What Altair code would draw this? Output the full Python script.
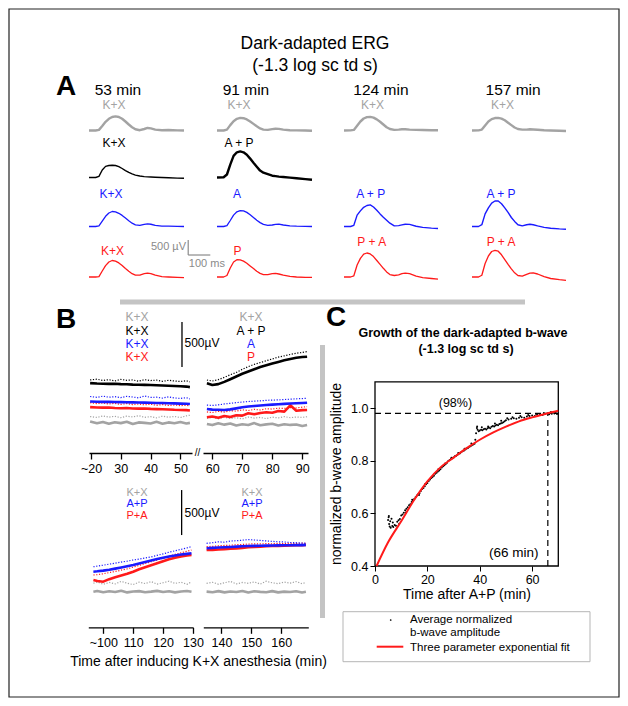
import altair as alt
import pandas as pd

FONT = "Liberation Sans"
W, H = 612, 690
GRAY, BLACK, BLUE, RED = "#a3a3a3", "#000000", "#1a1aff", "#ff1a1a"

# ================= DATA =================
# ---- Panel A: ERG traces, amplitude (µV) vs time after flash (ms)
A_T = [0, 30, 45, 60, 75, 90, 105, 120, 135, 150, 165, 180, 195, 210, 230, 250, 265, 280, 300, 330, 360, 400, 430]
A_HEADERS = ["53 min", "91 min", "124 min", "157 min"]

gray_53 = [0, 0, 20, 150, 290, 390, 450, 470, 450, 390, 300, 200, 110, 40, 10, 50, 85, 70, 30, 10, 15, 5, 0]
gray_91 = [0, 0, 30, 180, 310, 390, 420, 410, 370, 300, 220, 140, 70, 30, 20, 45, 60, 55, 30, 10, 5, 0, -10]
gray_124 = [0, 5, 20, 160, 300, 400, 445, 455, 430, 370, 290, 200, 110, 50, 20, 30, 40, 40, 30, 20, 15, 10, 10]
gray_157 = [0, 5, 30, 170, 300, 380, 415, 420, 395, 340, 260, 180, 100, 50, 30, 30, 40, 35, 25, 10, 0, -10, -15]
black_53 = [0, 0, 40, 250, 370, 400, 410, 400, 360, 300, 230, 170, 120, 80, 50, 30, 20, 15, 10, 0, -10, -20, -25]
black_91 = [0, 10, 100, 430, 720, 840, 870, 840, 760, 630, 490, 360, 230, 160, 110, 60, 45, 30, 15, -5, -25, -55, -75]
blue_53 = [0, 0, 20, 180, 340, 450, 500, 490, 440, 370, 280, 190, 110, 55, 40, 70, 90, 75, 35, 10, 10, 5, 0]
blue_91 = [0, 0, 30, 200, 380, 490, 530, 520, 470, 390, 300, 210, 130, 70, 40, 50, 70, 80, 50, 20, 10, 5, 0]
blue_124 = [0, 0, 40, 380, 520, 640, 700, 720, 650, 540, 420, 310, 210, 110, 20, 30, 55, 75, 70, 10, -30, -55, -65]
blue_157 = [0, 0, 60, 420, 620, 780, 850, 850, 760, 620, 470, 300, 170, 60, 20, 60, 75, 60, 20, -30, -60, -80, -90]
red_53 = [0, 0, 15, 200, 380, 500, 550, 530, 470, 380, 280, 190, 110, 60, 60, 110, 130, 115, 60, 10, 0, -10, -20]
red_91 = [0, 0, 50, 300, 500, 575, 570, 530, 460, 370, 280, 190, 120, 80, 80, 110, 120, 100, 60, 20, 0, -10, -15]
red_124 = [0, 0, 40, 400, 620, 760, 800, 770, 680, 550, 420, 290, 170, 80, 50, 70, 110, 130, 110, 30, -20, -50, -70]
red_157 = [0, 0, 60, 450, 700, 850, 890, 860, 740, 580, 420, 270, 140, 50, 30, 90, 130, 140, 100, 10, -50, -90, -110]

A_LABELS_GRAY = ["K+X", "K+X", "K+X", "K+X"]
A_LABELS_BLACK = ["K+X", "A + P"]
A_LABELS_BLUE = ["K+X", "A", "A + P", "A + P"]
A_LABELS_RED = ["K+X", "P", "P + A", "P + A"]
A_BAR_UV = 500
A_BAR_MS = 100

# ---- Panel B: b-wave amplitude (µV) vs time after K+X (min)
TL_T = [19.7, 22, 24, 26, 28, 30, 32, 34, 36, 38, 40, 42, 44, 46, 48, 50, 52, 53.2]
TL_black_dot = [812, 820, 806, 815, 800, 818, 808, 812, 798, 815, 805, 810, 796, 808, 800, 795, 802, 790]
TL_black = [776, 772, 770, 768, 770, 765, 764, 760, 758, 757, 755, 752, 750, 748, 745, 742, 738, 732]
TL_blue_dot = [628, 618, 632, 620, 626, 615, 630, 622, 612, 634, 618, 620, 610, 624, 612, 606, 615, 600]
TL_blue = [572, 570, 568, 569, 566, 565, 564, 563, 561, 560, 558, 556, 555, 553, 551, 549, 547, 544]
TL_red_dot = [560, 548, 556, 545, 552, 540, 550, 538, 545, 535, 542, 530, 538, 528, 534, 526, 530, 522]
TL_red = [510, 506, 504, 505, 500, 498, 500, 495, 493, 494, 490, 488, 486, 484, 480, 478, 476, 472]
TL_gray_dot = [405, 395, 412, 398, 408, 392, 410, 400, 415, 396, 404, 390, 410, 398, 406, 394, 412, 420]
TL_gray = [350, 330, 345, 325, 342, 332, 348, 322, 340, 335, 328, 346, 326, 340, 330, 344, 328, 335]

TR_T = [58.2, 60, 62, 64, 66, 68, 70, 72, 74, 76, 78, 80, 82, 84, 86, 88, 90, 91.6]
TR_black = [774, 756, 765, 790, 820, 850, 880, 905, 930, 955, 975, 995, 1012, 1030, 1045, 1058, 1066, 1070]
TR_black_dot = [811, 800, 815, 840, 870, 895, 930, 960, 985, 1005, 1025, 1045, 1065, 1080, 1095, 1108, 1118, 1126]
TR_blue_dot = [533, 528, 535, 545, 552, 560, 566, 572, 576, 580, 585, 588, 590, 594, 598, 602, 605, 608]
TR_blue = [489, 482, 480, 478, 485, 496, 508, 516, 522, 528, 533, 537, 541, 546, 550, 553, 556, 559]
TR_red = [397, 405, 392, 411, 400, 420, 415, 441, 430, 445, 452, 448, 467, 460, 530, 470, 476, 478]
TR_red_dot = [456, 450, 462, 455, 470, 465, 480, 472, 485, 478, 492, 488, 498, 495, 505, 500, 510, 514]
TR_gray_dot = [386, 395, 380, 398, 384, 392, 378, 400, 388, 395, 382, 398, 390, 404, 392, 400, 396, 403]
TR_gray = [322, 310, 330, 315, 328, 305, 320, 312, 332, 308, 318, 325, 306, 320, 312, 316, 300, 311]

BL_T = [96.7, 98, 100, 102, 104, 106, 108, 110, 112, 114, 116, 118, 120, 122, 124, 126, 128, 129.5]
BL_blue_dot = [673, 680, 690, 702, 712, 725, 735, 748, 758, 770, 782, 800, 815, 835, 850, 866, 882, 896]
BL_blue = [618, 622, 630, 640, 652, 665, 678, 692, 708, 725, 742, 758, 772, 786, 798, 808, 816, 822]
BL_red_dot = [581, 585, 595, 608, 620, 635, 650, 668, 688, 708, 728, 748, 768, 790, 810, 828, 845, 859]
BL_red = [526, 515, 507, 535, 556, 575, 595, 618, 645, 668, 690, 712, 735, 757, 774, 788, 798, 803]
BL_gray_dot = [489, 505, 478, 498, 482, 510, 490, 475, 502, 486, 508, 480, 495, 512, 488, 500, 478, 505]
BL_gray = [396, 404, 390, 400, 392, 406, 388, 398, 402, 390, 396, 405, 392, 400, 388, 398, 404, 395]

BR_T = [135, 137, 139, 141, 143, 145, 147, 149, 151, 153, 155, 157, 159, 161, 163, 165, 167, 168.3]
BR_blue_dot = [933, 940, 950, 945, 958, 962, 968, 975, 970, 965, 960, 955, 950, 948, 942, 940, 936, 933]
BR_blue = [878, 882, 886, 890, 893, 896, 900, 903, 905, 906, 908, 909, 910, 911, 912, 913, 913, 914]
BR_red_dot = [896, 900, 905, 910, 912, 918, 920, 925, 928, 926, 930, 928, 932, 930, 934, 932, 935, 933]
BR_red = [859, 860, 864, 868, 872, 876, 882, 889, 893, 896, 900, 903, 905, 907, 909, 911, 912, 914]
BR_gray_dot = [489, 500, 478, 495, 510, 482, 498, 488, 505, 480, 512, 494, 485, 502, 490, 508, 485, 498]
BR_gray = [396, 390, 402, 388, 398, 392, 404, 386, 400, 394, 390, 402, 388, 396, 392, 400, 386, 394]

B_TOP_TICKS_L = [20, 30, 40, 50]
B_TOP_TICKS_R = [60, 70, 80, 90]
B_BOT_TICKS_L = [100, 110, 120, 130]
B_BOT_TICKS_R = [140, 150, 160]
B_TOP_LABELS_L = ["K+X", "K+X", "K+X", "K+X"]
B_TOP_LABELS_R = ["K+X", "A + P", "A", "P"]
B_BOT_LABELS_L = ["K+X", "A+P", "P+A"]
B_BOT_LABELS_R = ["K+X", "A+P", "P+A"]
B_BAR_UV = 500

# ---- Panel C: normalized b-wave amplitude vs time after A+P (min)
C_T = [5.0, 5.2, 5.4, 5.6, 5.8, 6.0, 6.3, 6.6, 7.0, 7.5, 8.0, 8.5, 9.0, 9.5, 10.0, 10.5, 11.0, 11.5,
       12.0, 12.5, 13.0, 13.5, 14.0, 14.5, 15.0, 15.5, 16.0, 16.5, 17.0, 17.5, 18.0, 18.5, 19.0, 19.5,
       20.0, 20.5, 21.0, 21.5, 22.0, 22.5, 23.0, 23.5, 24.0, 24.5, 25.0, 25.5, 26.0, 26.5, 27.0, 27.5,
       28.0, 28.5, 29.0, 29.5, 30.0, 30.5, 31.0, 31.5, 32.0, 32.5, 33.0, 33.5, 34.0, 34.5, 35.0, 35.5,
       36.0, 36.5, 37.0, 37.5, 38.0, 38.3, 38.6, 38.9, 39.2, 39.6, 40.0, 40.5, 41.0, 41.5, 42.0, 42.5,
       43.0, 43.5, 44.0, 44.5, 45.0, 45.5, 46.0, 46.5, 47.0, 47.5, 48.0, 48.5, 49.0, 49.5, 50.0, 51.0,
       52.0, 53.0, 54.0, 55.0, 56.0, 57.0, 58.0, 59.0, 60.0, 61.0, 62.0, 63.0, 64.0, 65.0, 66.0, 66.5,
       67.0, 67.5, 68.0, 68.5, 69.0, 69.5]
C_V = [0.575, 0.585, 0.56, 0.55, 0.57, 0.545, 0.58, 0.552, 0.548, 0.556, 0.553, 0.568, 0.574, 0.579,
       0.592, 0.596, 0.602, 0.612, 0.618, 0.623, 0.631, 0.635, 0.643, 0.649, 0.655, 0.661, 0.668, 0.673,
       0.677, 0.685, 0.693, 0.697, 0.703, 0.711, 0.716, 0.723, 0.729, 0.735, 0.739, 0.743, 0.751, 0.755,
       0.759, 0.763, 0.768, 0.775, 0.779, 0.783, 0.788, 0.793, 0.799, 0.803, 0.807, 0.81, 0.813, 0.817,
       0.819, 0.823, 0.827, 0.829, 0.833, 0.837, 0.839, 0.843, 0.847, 0.849, 0.853, 0.855, 0.859, 0.862,
       0.865, 0.88, 0.905, 0.925, 0.918, 0.912, 0.915, 0.918, 0.916, 0.92, 0.922, 0.919, 0.924, 0.927,
       0.924, 0.929, 0.932, 0.93, 0.934, 0.937, 0.935, 0.94, 0.942, 0.944, 0.947, 0.95, 0.954, 0.957,
       0.96, 0.962, 0.96, 0.964, 0.966, 0.964, 0.968, 0.97, 0.972, 0.97, 0.974, 0.976, 0.974, 0.978,
       0.98, 0.977, 0.982, 0.979, 0.984, 0.98, 0.982, 0.978]
# extra scattered samples around the band
C_T2 = [5.3, 6.8, 9.2, 11.8, 14.2, 16.8, 19.2, 21.8, 24.2, 26.8, 29.2, 31.8, 34.2, 36.8, 39.0, 40.8,
        43.2, 45.8, 48.2, 50.5, 52.5, 55.5, 58.5, 61.5, 64.5, 67.2, 68.8]
C_V2 = [0.59, 0.565, 0.56, 0.603, 0.652, 0.67, 0.712, 0.738, 0.768, 0.79, 0.812, 0.83, 0.846, 0.866,
        0.93, 0.928, 0.93, 0.942, 0.952, 0.962, 0.966, 0.97, 0.974, 0.978, 0.982, 0.986, 0.984]
FIT_T = [0.6, 5, 10, 15, 20, 25, 30, 35, 40, 45, 50, 55, 60, 65, 70]
FIT_V = [0.4, 0.49, 0.57, 0.652, 0.722, 0.775, 0.812, 0.848, 0.88, 0.907, 0.93, 0.95, 0.965, 0.978, 0.99]
C_LEVEL = 0.98
C_T98 = 66
C_X_TICKS = [0, 20, 40, 60]
C_Y_TICKS = [0.4, 0.6, 0.8, 1.0]

# ================= LAYOUT HELPERS =================
ONE = alt.Data(values=[{"k": 1}])


def P(v):
    """page pixel -> chart pixel"""
    return v - 8


def lin(lo, hi, r0, r1):
    return alt.Scale(domain=[lo, hi], range=[r0, r1], nice=False, zero=False)


def vtext(s, x, y, size=12, color=BLACK, weight="normal", align="center", baseline="middle", angle=None):
    kw = dict(text=s, fontSize=size, color=color, fontWeight=weight, align=align,
              baseline=baseline, font=FONT)
    if angle is not None:
        kw["angle"] = angle
    return alt.Chart(ONE).mark_text(**kw).encode(x=alt.value(P(x)), y=alt.value(P(y)))


def vrule(x1, y1, x2, y2, color=BLACK, width=1, dash=None):
    kw = dict(color=color, strokeWidth=width)
    if dash:
        kw["strokeDash"] = dash
    return alt.Chart(ONE).mark_rule(**kw).encode(
        x=alt.value(P(x1)), x2=alt.value(P(x2)), y=alt.value(P(y1)), y2=alt.value(P(y2)))


layers = []

# border
layers.append(alt.Chart(ONE).mark_rect(fillOpacity=0, stroke="#222", strokeWidth=1.2).encode(
    x=alt.value(1), x2=alt.value(W - 1), y=alt.value(1), y2=alt.value(H - 1)))

# ================= PANEL A =================
A_COL_PX = [(89, 184), (217, 312), (344, 438), (472, 566)]
A_BASE = {"gray": 130.5, "black": 177.5, "blue": 226.5, "red": 277.0}
A_PXUV = 0.03


def a_scales(ci, row):
    x0, x1 = A_COL_PX[ci]
    b = P(A_BASE[row])
    return lin(0, 430, P(x0), P(x1)), lin(0, 1000, b, b - 1000 * A_PXUV)


def a_trace(ci, row, vals, color, sw):
    xs, ys = a_scales(ci, row)
    df = pd.DataFrame({"t": A_T, "v": vals})
    return alt.Chart(df).mark_line(color=color, strokeWidth=sw, strokeJoin="round").encode(
        x=alt.X("t:Q", scale=xs, axis=None), y=alt.Y("v:Q", scale=ys, axis=None))


def a_text(ci, row, t, v, s, color, size, align="center", weight="normal"):
    xs, ys = a_scales(ci, row)
    df = pd.DataFrame({"t": [t], "v": [v], "s": [s]})
    return alt.Chart(df).mark_text(color=color, fontSize=size, font=FONT, align=align,
                                   baseline="middle", fontWeight=weight).encode(
        x=alt.X("t:Q", scale=xs, axis=None), y=alt.Y("v:Q", scale=ys, axis=None), text="s:N")


A_TRACES = {
    "gray": ([gray_53, gray_91, gray_124, gray_157], GRAY, [2.4, 2.4, 2.4, 2.4]),
    "black": ([black_53, black_91], BLACK, [1.4, 2.4]),
    "blue": ([blue_53, blue_91, blue_124, blue_157], BLUE, [1.3, 1.3, 1.4, 1.4]),
    "red": ([red_53, red_91, red_124, red_157], RED, [1.3, 1.3, 1.3, 1.3]),
}
A_LABS = {"gray": A_LABELS_GRAY, "black": A_LABELS_BLACK, "blue": A_LABELS_BLUE, "red": A_LABELS_RED}
A_LAB_T = {"gray": [113, 100, 130, 139], "black": [113, 100], "blue": [100, 90, 122, 133],
           "red": [106, 93, 127, 133]}
A_LAB_V = {"gray": [850] * 4, "black": [1150] * 2, "blue": [1100] * 4, "red": [870, 870, 1160, 1160]}

for row, (series, color, sws) in A_TRACES.items():
    for ci, vals in enumerate(series):
        layers.append(a_trace(ci, row, vals, color, sws[ci]))
        layers.append(a_text(ci, row, A_LAB_T[row][ci], A_LAB_V[row][ci], A_LABS[row][ci], color, 12))

HDR_T = [131, 131, 169, 188]
for ci, h in enumerate(A_HEADERS):
    layers.append(a_text(ci, "gray", HDR_T[ci], 1350, h, BLACK, 15.5))

# scale bar (red row, first column scales)
xs_bar, ys_bar = a_scales(0, "red")
bar_x0 = 449
bar_y0 = 733
bar_df = pd.DataFrame({"x": [bar_x0, bar_x0], "x2": [bar_x0, bar_x0 + A_BAR_MS],
                       "y": [bar_y0, bar_y0], "y2": [bar_y0 + A_BAR_UV, bar_y0]})
layers.append(alt.Chart(bar_df).mark_rule(color="#8a8a8a", strokeWidth=1.2).encode(
    x=alt.X("x:Q", scale=xs_bar, axis=None), x2="x2:Q",
    y=alt.Y("y:Q", scale=ys_bar, axis=None), y2="y2:Q"))
layers.append(a_text(0, "red", 439, 1000, f"{A_BAR_UV} µV", "#8a8a8a", 11, align="right"))
layers.append(a_text(0, "red", 452, 450, f"{A_BAR_MS} ms", "#8a8a8a", 11, align="left"))

# title and panel letter
layers.append(vtext("Dark-adapted ERG", 315, 49, size=17.5, baseline="alphabetic"))
layers.append(vtext("(-1.3 log sc td s)", 315, 71, size=17.5, baseline="alphabetic"))
layers.append(vtext("A", 66, 87, size=28, weight="bold"))

# separators
layers.append(vrule(120, 302, 525, 302, color="#c4c4c4", width=5))
layers.append(vrule(322.5, 345, 322.5, 618, color="#c4c4c4", width=5))

# ================= PANEL B =================
B_TOP_AXIS, B_BOT_AXIS = 453, 627.3
B_PXUV = 0.09

B_SEGS = [
    dict(T=TL_T, dom=(19.33, 53.9), px=(89, 192), axis_y=B_TOP_AXIS, ticks=B_TOP_TICKS_L, first="~20",
         S=[(TL_gray, GRAY, False), (TL_gray_dot, GRAY, True), (TL_red, RED, False), (TL_red_dot, RED, True),
            (TL_blue, BLUE, False), (TL_blue_dot, BLUE, True), (TL_black, BLACK, False),
            (TL_black_dot, BLACK, True)]),
    dict(T=TR_T, dom=(56.9, 91.9), px=(203, 308), axis_y=B_TOP_AXIS, ticks=B_TOP_TICKS_R, first=None,
         S=[(TR_gray, GRAY, False), (TR_gray_dot, GRAY, True), (TR_red, RED, False), (TR_red_dot, RED, True),
            (TR_blue, BLUE, False), (TR_blue_dot, BLUE, True), (TR_black, BLACK, False),
            (TR_black_dot, BLACK, True)]),
    dict(T=BL_T, dom=(95, 130), px=(88.3, 193), axis_y=B_BOT_AXIS, ticks=B_BOT_TICKS_L, first="~100",
         S=[(BL_gray, GRAY, False), (BL_gray_dot, GRAY, True), (BL_red, RED, False), (BL_red_dot, RED, True),
            (BL_blue, BLUE, False), (BL_blue_dot, BLUE, True)]),
    dict(T=BR_T, dom=(133.9, 169.1), px=(203.3, 308.3), axis_y=B_BOT_AXIS, ticks=B_BOT_TICKS_R, first=None,
         S=[(BR_gray, GRAY, False), (BR_gray_dot, GRAY, True), (BR_red, RED, False), (BR_red_dot, RED, True),
            (BR_blue, BLUE, False), (BR_blue_dot, BLUE, True)]),
]


def b_scales(seg):
    xs = lin(seg["dom"][0], seg["dom"][1], P(seg["px"][0]), P(seg["px"][1]))
    b = P(seg["axis_y"])
    ys = lin(0, 1000, b, b - 1000 * B_PXUV)
    return xs, ys


for seg in B_SEGS:
    xs, ys = b_scales(seg)
    for k, (vals, color, dotted) in enumerate(seg["S"]):
        df = pd.DataFrame({"t": seg["T"], "v": vals})
        if dotted:
            mk = alt.Chart(df).mark_line(color=color, strokeWidth=1.2, strokeDash=[1.2, 1.6])
        else:
            mk = alt.Chart(df).mark_line(color=color, strokeWidth=2.6, strokeJoin="round")
        if k == 0:
            lab_expr = "datum.label"
            if seg["first"]:
                lab_expr = f"datum.value == {seg['ticks'][0]} ? '{seg['first']}' : datum.label"
            ax = alt.Axis(orient="bottom", offset=P(seg["axis_y"]) - H, values=seg["ticks"],
                          labelExpr=lab_expr, tickSize=6, tickWidth=1.3, domainWidth=1.3,
                          domainColor=BLACK, tickColor=BLACK, labelColor=BLACK, labelFontSize=12.5,
                          labelPadding=3, labelFlush=False, title=None, grid=False)
        else:
            ax = None
        mk = mk.encode(x=alt.X("t:Q", scale=xs, axis=ax), y=alt.Y("v:Q", scale=ys, axis=None))
        layers.append(mk)

# B scale bars (500 µV) in data coordinates
for seg, bx, by in [(B_SEGS[0], 50.54, 955), (B_SEGS[2], 126.2, 1025)]:
    xs, ys = b_scales(seg)
    df = pd.DataFrame({"x": [bx], "y": [by], "y2": [by + B_BAR_UV]})
    layers.append(alt.Chart(df).mark_rule(color=BLACK, strokeWidth=1.3).encode(
        x=alt.X("x:Q", scale=xs, axis=None), y=alt.Y("y:Q", scale=ys, axis=None), y2="y2:Q"))
layers.append(vtext(f"{B_BAR_UV}µV", 184.5, 343, size=12, align="left"))
layers.append(vtext(f"{B_BAR_UV}µV", 184.5, 512.7, size=12, align="left"))

# B labels
top_cols = [GRAY, BLACK, BLUE, RED]
for i, (s, c) in enumerate(zip(B_TOP_LABELS_L, top_cols)):
    layers.append(vtext(s, 137, 317.3 + 13.3 * i, size=12, color=c))
for i, (s, c) in enumerate(zip(B_TOP_LABELS_R, top_cols)):
    layers.append(vtext(s, 251, 317.3 + 13.3 * i, size=12, color=c))
bot_cols = [GRAY, BLUE, RED]
for i, (s, c) in enumerate(zip(B_BOT_LABELS_L, bot_cols)):
    layers.append(vtext(s, 137, 492.5 + 11.6 * i, size=11, color=c))
for i, (s, c) in enumerate(zip(B_BOT_LABELS_R, bot_cols)):
    layers.append(vtext(s, 252, 492.5 + 11.6 * i, size=11, color=c))

layers.append(vtext("//", 197.5, 453, size=10))
layers.append(vtext("Time after inducing K+X anesthesia (min)", 198.5, 662, size=14))
layers.append(vtext("B", 66, 320, size=28, weight="bold"))

# ================= PANEL C =================
cxs = lin(0, 70, P(375), P(558.3))
cys = lin(0.4, 1.1, P(566), P(381.9))

frame = pd.DataFrame({"x": [0], "x2": [70], "y": [0.4], "y2": [1.1]})
layers.append(alt.Chart(frame).mark_rect(fillOpacity=0, stroke=BLACK, strokeWidth=1.3).encode(
    x=alt.X("x:Q", scale=cxs, axis=None), x2="x2:Q", y=alt.Y("y:Q", scale=cys, axis=None), y2="y2:Q"))

hline = pd.DataFrame({"x": [0], "x2": [70], "y": [C_LEVEL]})
layers.append(alt.Chart(hline).mark_rule(color=BLACK, strokeWidth=1.2, strokeDash=[6, 4]).encode(
    x=alt.X("x:Q", scale=cxs, axis=None), x2="x2:Q", y=alt.Y("y:Q", scale=cys, axis=None)))
vline = pd.DataFrame({"x": [C_T98], "y": [0.4], "y2": [C_LEVEL]})
layers.append(alt.Chart(vline).mark_rule(color=BLACK, strokeWidth=1.2, strokeDash=[6, 4]).encode(
    x=alt.X("x:Q", scale=cxs, axis=None), y=alt.Y("y:Q", scale=cys, axis=None), y2="y2:Q"))

pts = pd.DataFrame({"t": C_T + C_T2, "v": C_V + C_V2})
layers.append(alt.Chart(pts).mark_circle(color=BLACK, size=4, opacity=1).encode(
    x=alt.X("t:Q", scale=cxs, axis=alt.Axis(orient="bottom", offset=P(566) - H, values=C_X_TICKS,
            tickSize=5, labelFontSize=12.5, labelPadding=2, title=None, grid=False, labelFlush=False,
            domain=False, tickColor=BLACK, labelColor=BLACK)),
    y=alt.Y("v:Q", scale=cys, axis=alt.Axis(orient="left", offset=-P(375), values=C_Y_TICKS, format=".1f",
            tickSize=5, labelFontSize=12.5, labelPadding=2, title=None, grid=False, domain=False,
            tickColor=BLACK, labelColor=BLACK))))

fit = pd.DataFrame({"t": FIT_T, "v": FIT_V})
layers.append(alt.Chart(fit).mark_line(color=RED, strokeWidth=2, interpolate="monotone").encode(
    x=alt.X("t:Q", scale=cxs, axis=None), y=alt.Y("v:Q", scale=cys, axis=None)))

ann = pd.DataFrame({"t": [30.7, 53], "v": [1.018, 0.451], "s": ["(98%)", f"({C_T98} min)"],
                    "z": [12.5, 13.5]})
layers.append(alt.Chart(ann).mark_text(font=FONT, color=BLACK).encode(
    x=alt.X("t:Q", scale=cxs, axis=None), y=alt.Y("v:Q", scale=cys, axis=None), text="s:N",
    size=alt.Size("z:Q", scale=None, legend=None)))

layers.append(vtext("C", 336, 318, size=28, weight="bold"))
layers.append(vtext("Growth of the dark-adapted b-wave", 463, 333, size=12.5, weight="bold"))
layers.append(vtext("(-1.3 log sc td s)", 466, 348.5, size=12.5, weight="bold"))
layers.append(vtext("normalized b-wave amplitude", 337, 474, size=14, angle=270))
layers.append(vtext("Time after A+P (min)", 467, 595, size=14))

# legend (decoration)
layers.append(alt.Chart(ONE).mark_rect(fillOpacity=0, stroke="#b5b5b5", strokeWidth=1).encode(
    x=alt.value(P(343)), x2=alt.value(P(590)), y=alt.value(P(611.7)), y2=alt.value(P(661.7))))
layers.append(alt.Chart(ONE).mark_circle(color=BLACK, size=3, opacity=1).encode(
    x=alt.value(P(390.7)), y=alt.value(P(620))))
layers.append(vtext("Average normalized", 410, 619.5, size=11.5, align="left"))
layers.append(vtext("b-wave amplitude", 410, 632.5, size=11.5, align="left"))
layers.append(vrule(376.7, 646.7, 403.3, 646.7, color=RED, width=2))
layers.append(vtext("Three parameter exponential fit", 410, 647.5, size=11.5, align="left"))

chart = alt.layer(*layers).resolve_scale(x="independent", y="independent").properties(
    width=W, height=H, autosize=alt.AutoSizeParams(type="none"), padding=0
).configure_view(stroke=None).configure_axis(
    labelFont=FONT, titleFont=FONT, grid=False
).configure_text(font=FONT)

chart.save("out.html", embed_options={"renderer": "svg", "actions": False})
